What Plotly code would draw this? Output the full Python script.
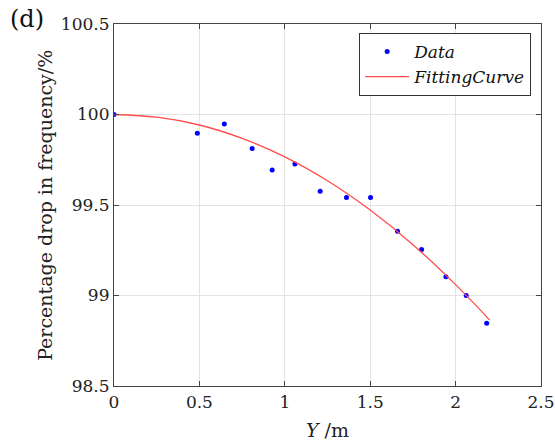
import plotly.graph_objects as go

# Measured data points
data_x = [0.0, 0.488, 0.646, 0.809, 0.926, 1.059, 1.207, 1.361, 1.502, 1.660, 1.801, 1.943, 2.062, 2.182]
data_y = [100.0, 99.897, 99.948, 99.812, 99.694, 99.727, 99.576, 99.541, 99.541, 99.355, 99.254, 99.103, 99.0, 98.847]

# Fitting curve
fit_x = [0.0, 0.25, 0.5, 0.75, 1.0, 1.25, 1.5, 1.75, 2.0, 2.2]
fit_y = [100.0, 99.985, 99.942, 99.868, 99.766, 99.634, 99.472, 99.281, 99.06, 98.864]

x_ticks = [0, 0.5, 1, 1.5, 2, 2.5]
x_tick_labels = ["0", "0.5", "1", "1.5", "2", "2.5"]
y_ticks = [98.5, 99, 99.5, 100, 100.5]
y_tick_labels = ["98.5", "99", "99.5", "100", "100.5"]

serif = "DejaVu Serif"

fig = go.Figure()
fig.add_trace(go.Scatter(
    x=data_x, y=data_y, mode="markers", name="<i>Data</i>",
    marker=dict(color="#0000ff", size=5),
))
fig.add_trace(go.Scatter(
    x=fit_x, y=fit_y, mode="lines", name="<i>FittingCurve</i>",
    line=dict(color="#ff4d4d", width=1.3, shape="spline"),
))

axis_common = dict(
    showgrid=True, gridcolor="#e3e3e3", gridwidth=1,
    showline=True, linecolor="#444444", linewidth=1.2, mirror="ticks",
    ticks="inside", ticklen=5, tickcolor="#444444",
    tickfont=dict(family=serif, size=17, color="#222222"),
    zeroline=False, automargin=False, ticklabeloverflow="allow",
)

fig.update_layout(
    width=555, height=441,
    margin=dict(l=114, r=14, t=24, b=55),
    paper_bgcolor="white", plot_bgcolor="white",
    font=dict(family=serif),
    xaxis=dict(range=[0, 2.5], tickvals=x_ticks, ticktext=x_tick_labels, **axis_common),
    yaxis=dict(range=[98.5, 100.5], tickvals=y_ticks, ticktext=y_tick_labels, **axis_common),
    legend=dict(
        x=0.977, y=0.975, xanchor="right", yanchor="top",
        bgcolor="white", bordercolor="#333333", borderwidth=1,
        font=dict(family=serif, size=17, color="#111111"),
        tracegroupgap=0, itemwidth=44,
    ),
    showlegend=True,
    annotations=[
        dict(text="(d)", xref="paper", yref="paper", x=-0.248, y=1.058,
             xanchor="left", yanchor="top", showarrow=False,
             font=dict(family=serif, size=24, color="#111111")),
        dict(text="Percentage drop in frequency/%", xref="paper", yref="paper",
             x=-0.162, y=0.5, xanchor="center", yanchor="middle", textangle=-90,
             showarrow=False, font=dict(family=serif, size=19, color="#222222")),
        dict(text="<i>Y</i> /m", xref="paper", yref="paper", x=0.5, y=-0.085,
             xanchor="center", yanchor="top", showarrow=False,
             font=dict(family=serif, size=19, color="#222222")),
    ],
)

fig.write_html("out.html", config={"displayModeBar": False},
               post_script="document.body.style.margin='0';document.body.style.padding='0';")
